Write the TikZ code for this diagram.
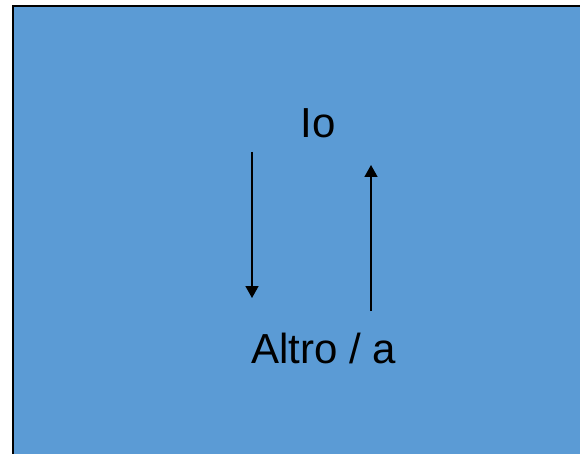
\documentclass[tikz,border=0pt]{standalone}
\usepackage{fontspec}
\setmainfont{Liberation Sans}
\usetikzlibrary{arrows.meta}
\definecolor{bgblue}{HTML}{5B9BD5}
\begin{document}
\begin{tikzpicture}[x=1pt,y=-1pt,
  lbl/.style={font=\fontsize{42}{50}\selectfont, text=black, inner sep=0pt},
  arr/.style={draw=black, line width=1.6pt, -{Triangle[length=12pt,width=13pt]}}]
\useasboundingbox (0,0) rectangle (580,454);
\clip (0,0) rectangle (580,454);
\draw[fill=bgblue, draw=black, line width=2pt] (13,6) rectangle (600,470);
\node[lbl] (io) at (318,123) {Io};
\node[lbl] (altro) at (324,348) {Altro / a};
\coordinate (a1s) at (252,152);
\coordinate (a1e) at (252,298);
\coordinate (a2s) at (371,311);
\coordinate (a2e) at (371,165);
\draw[arr] (a1s) -- (a1e);
\draw[arr] (a2s) -- (a2e);
\end{tikzpicture}
\end{document}
